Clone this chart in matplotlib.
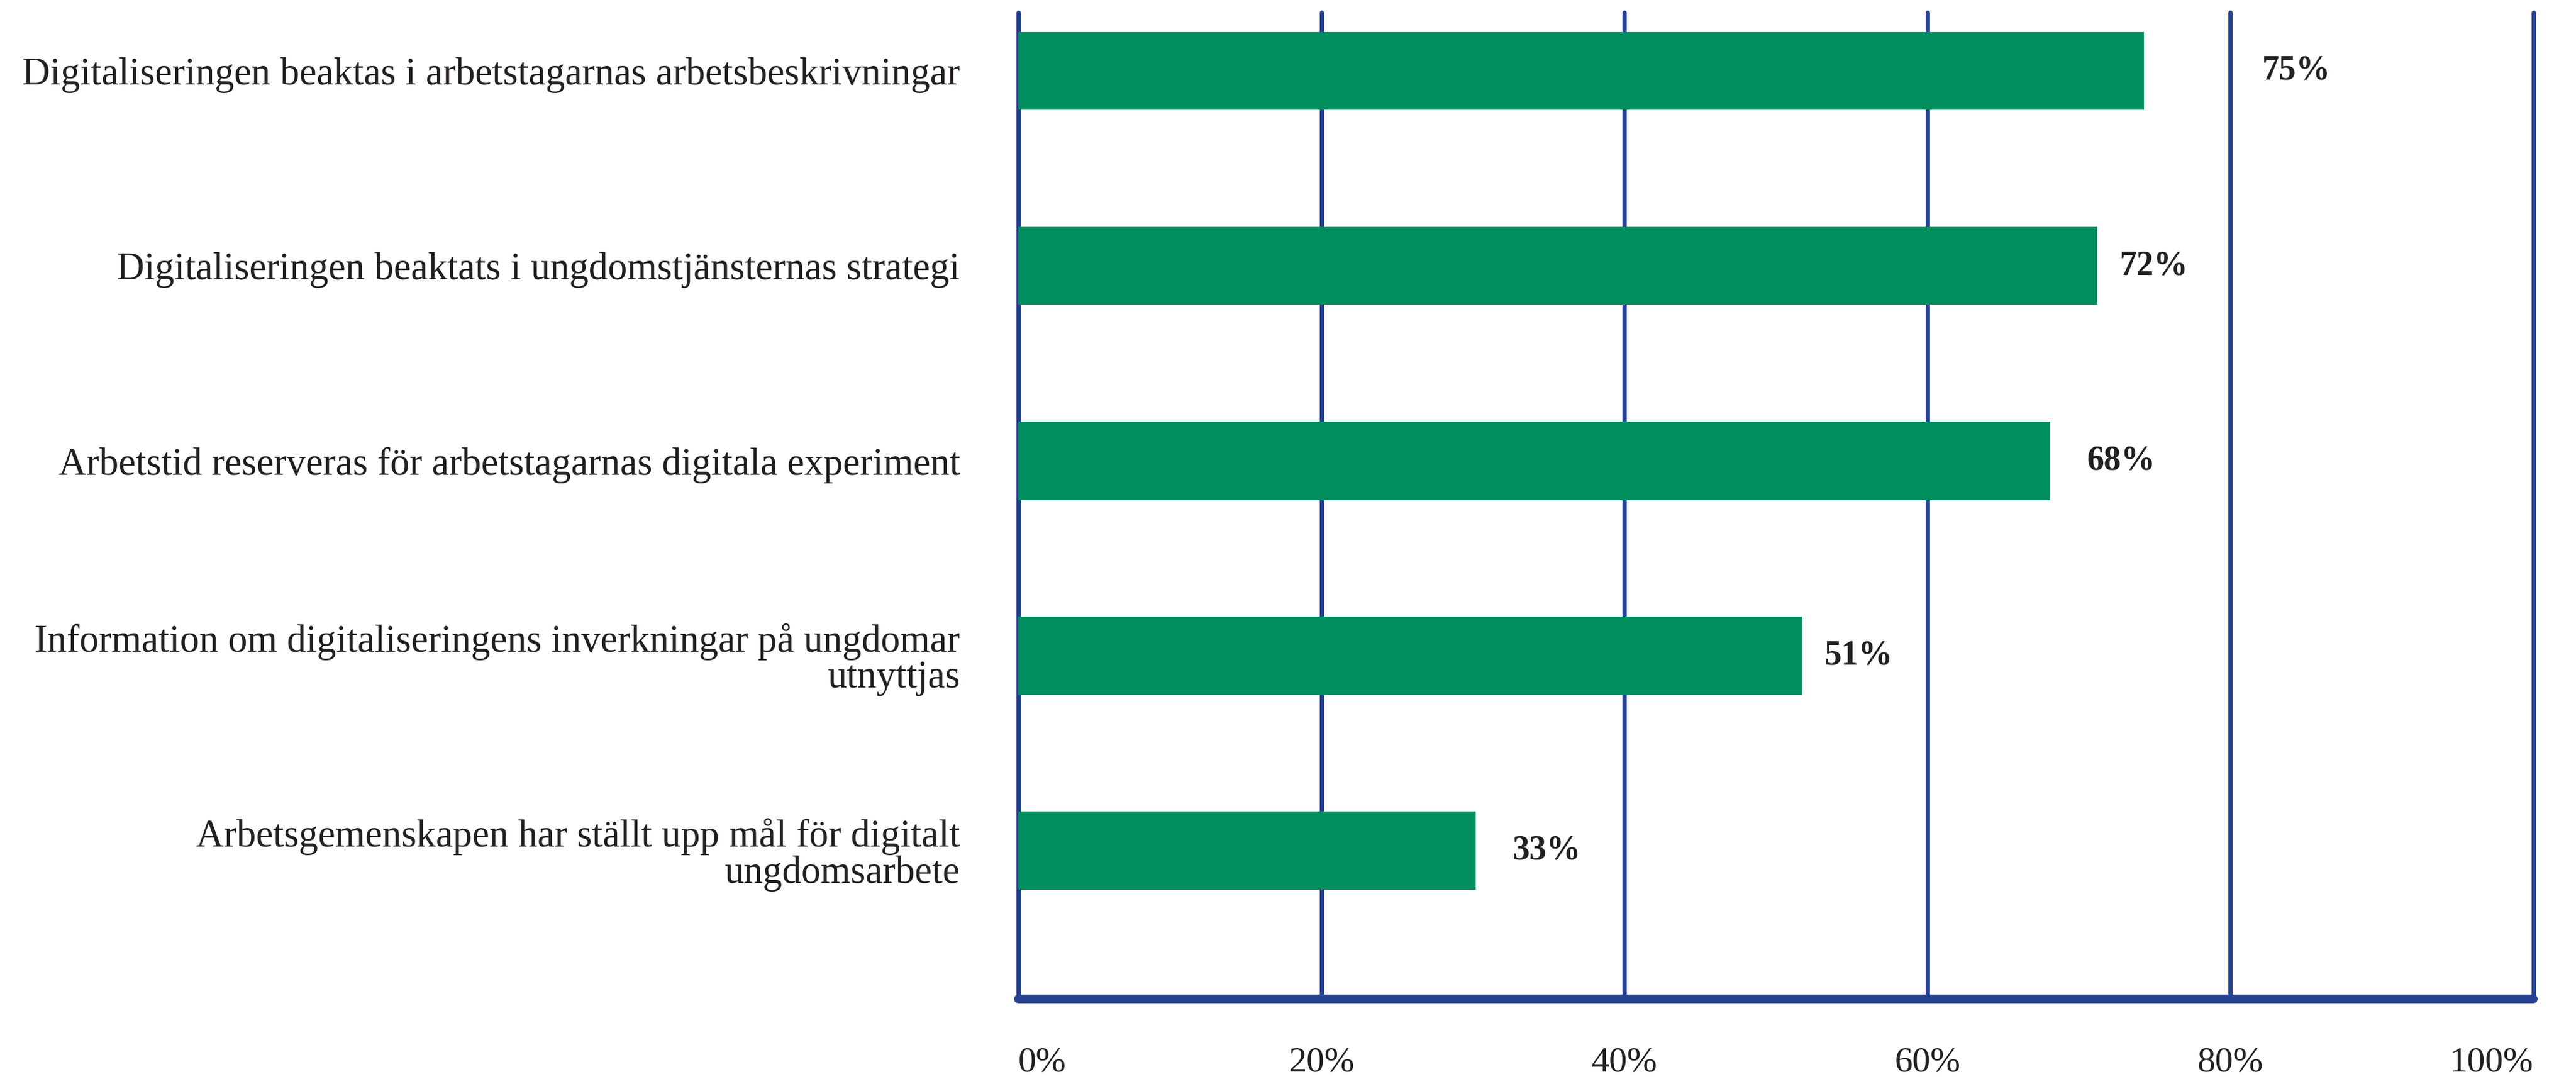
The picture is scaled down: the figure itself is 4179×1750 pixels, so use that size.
import matplotlib.pyplot as plt

# data
categories = [
    'Digitaliseringen beaktas i arbetstagarnas arbetsbeskrivningar',
    'Digitaliseringen beaktats i ungdomstjänsternas strategi',
    'Arbetstid reserveras för arbetstagarnas digitala experiment',
    'Information om digitaliseringens inverkningar på ungdomar\nutnyttjas',
    'Arbetsgemenskapen har ställt upp mål för digitalt\nungdomsarbete',
]
bar_values = [74.3, 71.2, 68.1, 51.7, 30.2]   # bar lengths as drawn
value_labels = ['75%', '72%', '68%', '51%', '33%']  # printed labels
xticks = [0, 20, 40, 60, 80, 100]
xtick_labels = ['0%', '20%', '40%', '60%', '80%', '100%']

# gap between bar end and its label (in axis %), as placed in the original
label_gap = [7.8, 1.5, 2.4, 1.5, 2.4]

green = '#008e5f'
blue = '#26418f'
txt = '#231f20'
plt.rcParams['font.family'] = ['Liberation Serif', 'DejaVu Serif']

W, H = 4179, 1750
fig = plt.figure(figsize=(W/100, H/100), dpi=100)
ax = fig.add_axes([1652/W, (H-1620)/H, (4110-1652)/W, 1600/H])

ypos = list(range(len(categories)))
ax.barh(ypos, bar_values, height=0.40, color=green, zorder=3)

ax.set_xlim(0, 100)
ax.set_ylim(4.76, -0.30)

# gridlines (0..100) drawn the full height
ax.vlines(xticks, -0.30, 4.76, colors=blue, lw=5, zorder=2, clip_on=False,
          capstyle='round')

for s in ['top', 'right', 'left']:
    ax.spines[s].set_visible(False)
ax.spines['bottom'].set_color(blue)
ax.spines['bottom'].set_linewidth(10)
ax.spines['bottom'].set_capstyle('round')

ax.set_xticks(xticks)
ax.set_xticklabels(xtick_labels)
ax.set_yticks(ypos)
ax.set_yticklabels(categories, linespacing=1.0)
ax.tick_params(axis='x', length=0, pad=56, labelsize=42, labelcolor=txt)
ax.tick_params(axis='y', length=0, pad=68, labelsize=45, labelcolor=txt)
xt = ax.get_xticklabels()
xt[0].set_ha('left')
xt[-1].set_ha('right')

for y, v, lab, g in zip(ypos, bar_values, value_labels, label_gap):
    ax.text(v + g, y, lab, ha='left', va='center', fontsize=40,
            fontweight='bold', color=txt, zorder=4)

fig.savefig('out.png', dpi=100, facecolor='white')
